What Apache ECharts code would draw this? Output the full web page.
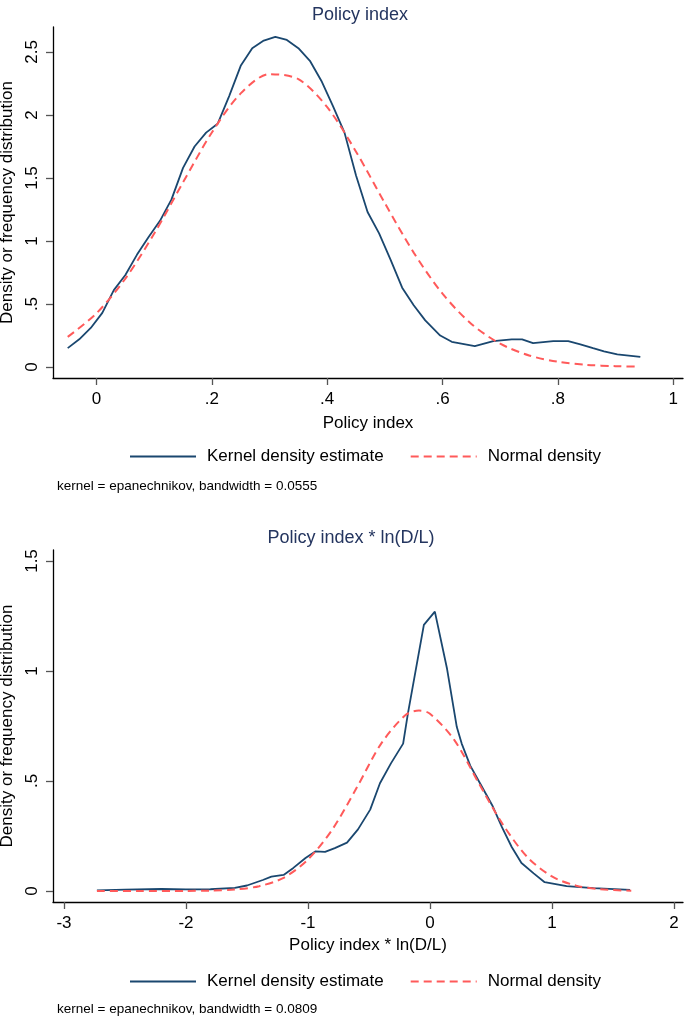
<!DOCTYPE html>
<html>
<head>
<meta charset="utf-8">
<script src="https://cdn.jsdelivr.net/npm/echarts@6/dist/echarts.min.js"></script>
<style>
  html, body { margin: 0; padding: 0; background: #fff; }
  #chart { width: 685px; height: 1019px; }
</style>
</head>
<body>
<div id="chart"></div>
<script>
// top panel: Policy index
var kdeX1 = [-0.05, -0.03, -0.01, 0.01, 0.03, 0.05, 0.07, 0.09, 0.11, 0.13, 0.15, 0.17, 0.19, 0.21, 0.23, 0.25, 0.27, 0.29, 0.31, 0.33, 0.35, 0.37, 0.39, 0.41, 0.43, 0.45, 0.47, 0.49, 0.51, 0.53, 0.55, 0.57, 0.596, 0.616, 0.656, 0.688, 0.72, 0.738, 0.757, 0.792, 0.818, 0.839, 0.861, 0.88, 0.903, 0.943];
var kdeY1 = [0.15, 0.22, 0.31, 0.43, 0.61, 0.73, 0.89, 1.03, 1.16, 1.33, 1.58, 1.75, 1.86, 1.93, 2.15, 2.39, 2.53, 2.59, 2.62, 2.595, 2.53, 2.43, 2.27, 2.07, 1.86, 1.52, 1.23, 1.06, 0.85, 0.63, 0.49, 0.37, 0.25, 0.20, 0.165, 0.205, 0.22, 0.22, 0.19, 0.205, 0.205, 0.18, 0.15, 0.125, 0.10, 0.08];
var normX1 = [-0.05, 0, 0.05, 0.1, 0.15, 0.2, 0.25, 0.3, 0.35, 0.4, 0.45, 0.5, 0.55, 0.6, 0.65, 0.7, 0.75, 0.8, 0.85, 0.9, 0.94];
var normY1 = [0.239, 0.427, 0.702, 1.059, 1.465, 1.861, 2.171, 2.324, 2.284, 2.062, 1.709, 1.30, 0.908, 0.582, 0.342, 0.185, 0.092, 0.042, 0.0175, 0.0067, 0.003];

// bottom panel: Policy index * ln(D/L)
var kdeX2 = [-2.73, -2.5, -2.2, -2.0, -1.8, -1.6, -1.5, -1.37, -1.3, -1.2, -1.12, -1.02, -0.94, -0.86, -0.78, -0.68, -0.59, -0.49, -0.41, -0.32, -0.22, -0.18, -0.05, 0.04, 0.14, 0.22, 0.26, 0.33, 0.41, 0.51, 0.59, 0.67, 0.75, 0.85, 0.94, 1.12, 1.34, 1.64];
var kdeY2 = [0.003, 0.006, 0.009, 0.007, 0.008, 0.014, 0.025, 0.05, 0.065, 0.073, 0.105, 0.15, 0.18, 0.178, 0.195, 0.22, 0.28, 0.37, 0.49, 0.58, 0.67, 0.81, 1.21, 1.27, 1.01, 0.745, 0.67, 0.57, 0.49, 0.39, 0.29, 0.20, 0.127, 0.08, 0.04, 0.022, 0.013, 0.005];
var normX2 = [-2.73, -2.4, -2.0, -1.8, -1.6, -1.4, -1.2, -1.0, -0.8, -0.6, -0.4, -0.2, -0.09, 0.0, 0.2, 0.4, 0.6, 0.8, 1.0, 1.2, 1.4, 1.65];
var normY2 = [0, 0.0001, 0.0004, 0.0017, 0.0066, 0.022, 0.06, 0.143, 0.28, 0.47, 0.67, 0.80, 0.82, 0.806, 0.686, 0.49, 0.30, 0.153, 0.066, 0.024, 0.0075, 0.0014];

var xTicks1 = [0, 0.2, 0.4, 0.6, 0.8, 1];
var yTicks1 = [0, 0.5, 1, 1.5, 2, 2.5];
var xTicks2 = [-3, -2, -1, 0, 1, 2];
var yTicks2 = [0, 0.5, 1, 1.5];

var titles = ["Policy index", "Policy index * ln(D/L)"];
var notes = ["kernel = epanechnikov, bandwidth = 0.0555", "kernel = epanechnikov, bandwidth = 0.0809"];
var seriesNames = ["Kernel density estimate", "Normal density"];

var FONT = "Liberation Sans, Arial, sans-serif";
var BLUE = "#1a476f";
var RED = "#ff5a5a";

// stata style: .5 instead of 0.5
function stataFmt(v) {
  var s = String(Math.round(v * 1000) / 1000);
  return s.replace(/^0\./, ".").replace(/^-0\./, "-.");
}

function zip(xs, ys) {
  return xs.map(function (x, i) { return [x, ys[i]]; });
}

function xAxisOf(idx, name, min, max, ticks, nameGap) {
  return {
    type: "value", gridIndex: idx, name: name, nameLocation: "middle", nameGap: nameGap,
    nameTextStyle: { fontSize: 17, color: "#000", fontFamily: FONT },
    min: min, max: max,
    axisLine: { show: true, onZero: false, lineStyle: { color: "#000", width: 1.3 } },
    axisTick: { show: true, length: 7, customValues: ticks, lineStyle: { color: "#555", width: 1.3 } },
    axisLabel: { customValues: ticks, formatter: stataFmt, fontSize: 17, color: "#000", fontFamily: FONT, margin: 13 },
    splitLine: { show: false }
  };
}

function yAxisOf(idx, min, max, ticks) {
  return {
    type: "value", gridIndex: idx, name: "Density or frequency distribution",
    nameLocation: "middle", nameGap: 32,
    nameTextStyle: { fontSize: 17, color: "#000", fontFamily: FONT },
    min: min, max: max,
    axisLine: { show: true, onZero: false, lineStyle: { color: "#000", width: 1.3 } },
    axisTick: { show: true, length: 7, customValues: ticks, lineStyle: { color: "#555", width: 1.3 } },
    axisLabel: { customValues: ticks, formatter: stataFmt, rotate: 90, fontSize: 17, color: "#000", fontFamily: FONT, margin: 12 },
    splitLine: { show: false }
  };
}

function lineSeries(name, idx, data, color, dashed) {
  return {
    name: name, type: "line", xAxisIndex: idx, yAxisIndex: idx,
    data: data, showSymbol: false, symbol: "none", smooth: dashed ? 0.3 : false,
    lineStyle: { color: color, width: dashed ? 2 : 1.8, type: dashed ? [8, 5] : "solid" },
    itemStyle: { color: color },
    animation: false
  };
}

function legendOf(top) {
  return {
    data: seriesNames, top: top, left: 129, padding: 0, itemWidth: 66, itemHeight: 14, itemGap: 26,
    itemStyle: { opacity: 0 },
    textStyle: { fontSize: 17, color: "#000", fontFamily: FONT, padding: [0, 0, 0, 6] }
  };
}

var myChart = echarts.init(document.getElementById("chart"), null, { renderer: "canvas" });
var option = {
  backgroundColor: "#fff",
  animation: false,
  title: [
    { text: titles[0], left: 355, top: 1, textAlign: "center", textStyle: { fontSize: 18, fontWeight: "normal", color: "#24355f", fontFamily: FONT } },
    { text: titles[1], left: 346, top: 524, textAlign: "center", textStyle: { fontSize: 18, fontWeight: "normal", color: "#24355f", fontFamily: FONT } }
  ],
  legend: [legendOf(448), legendOf(973)],
  grid: [
    { left: 53, top: 27, width: 630, height: 351, containLabel: false, outerBoundsMode: "none" },
    { left: 53, top: 550, width: 630, height: 352, containLabel: false, outerBoundsMode: "none" }
  ],
  xAxis: [
    xAxisOf(0, titles[0], -0.0755, 1.017, xTicks1, 37),
    xAxisOf(1, titles[1], -3.09, 2.074, xTicks2, 35)
  ],
  yAxis: [
    yAxisOf(0, -0.087, 2.698, yTicks1),
    yAxisOf(1, -0.05, 1.55, yTicks2)
  ],
  series: [
    lineSeries(seriesNames[0], 0, zip(kdeX1, kdeY1), BLUE, false),
    lineSeries(seriesNames[1], 0, zip(normX1, normY1), RED, true),
    lineSeries(seriesNames[0], 1, zip(kdeX2, kdeY2), BLUE, false),
    lineSeries(seriesNames[1], 1, zip(normX2, normY2), RED, true)
  ],
  graphic: [
    { type: "text", left: 57, top: 479, style: { text: notes[0], fontSize: 13.5, fill: "#000", fontFamily: FONT } },
    { type: "text", left: 57, top: 1002, style: { text: notes[1], fontSize: 13.5, fill: "#000", fontFamily: FONT } }
  ]
};
option && myChart.setOption(option);
</script>
</body>
</html>
